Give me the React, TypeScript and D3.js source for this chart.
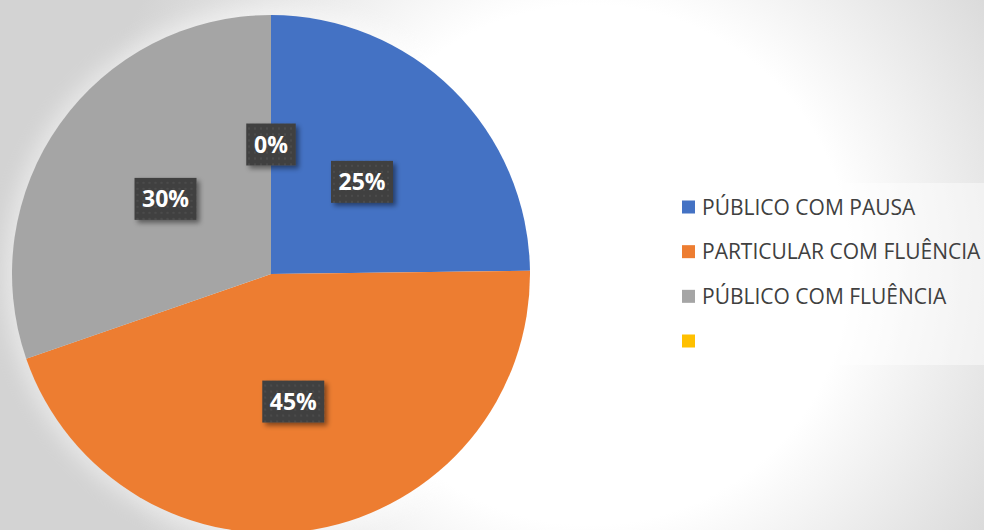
import React from "react";
import * as d3 from "d3";

const categories = ["PÚBLICO COM PAUSA", "PARTICULAR COM FLUÊNCIA", "PÚBLICO COM FLUÊNCIA", ""];
const values = [24.8, 44.9, 30.3, 0];
const labels = ["25%", "45%", "30%", "0%"];
const colors = ["#4472C4", "#ED7D31", "#A5A5A5", "#FFC000"];

const W = 984;
const H = 530;

export default function App() {
  const cx = 271;
  const cy = 274;
  const R = 259;
  const pie = d3.pie<number>().sort(null).value((d) => d)(values);
  const arc = d3.arc<d3.PieArcDatum<number>>().innerRadius(0).outerRadius(R);
  const legendY = d3.scalePoint<number>().domain(d3.range(categories.length)).range([207, 341]);
  const font = "'Open Sans', 'Noto Sans', sans-serif";
  const labelW = (s: string) => 18 + s.split("").reduce((a, c) => a + (c === "%" ? 19 : 12.5), 0);

  return (
    <svg width={W} height={H} style={{ position: "absolute", left: 0, top: 0 }}>
      <defs>
        <radialGradient id="bg" gradientUnits="userSpaceOnUse" cx={590} cy={265} r={520}>
          <stop offset="0" stopColor="#ffffff" />
          <stop offset="0.5" stopColor="#ffffff" />
          <stop offset="1" stopColor="#d3d3d3" />
        </radialGradient>
        <pattern id="dots" width="6" height="6" patternUnits="userSpaceOnUse">
          <rect width="6" height="6" fill="#404040" />
          <rect x="1" y="1" width="2" height="2" fill="#4c4c4c" />
        </pattern>
        <filter id="glow" x="-20%" y="-20%" width="140%" height="140%">
          <feGaussianBlur stdDeviation="10" />
        </filter>
        <filter id="shadow" x="-30%" y="-30%" width="160%" height="160%">
          <feDropShadow dx="3" dy="3" stdDeviation="2.5" floodColor="#000" floodOpacity="0.45" />
        </filter>
      </defs>
      <rect width={W} height={H} fill="url(#bg)" />
      <circle cx={cx} cy={cy} r={R + 8} fill="#ffffff" opacity={0.45} filter="url(#glow)" />
      <g transform={`translate(${cx},${cy})`}>
        {pie.map((p, i) => (
          <path key={i} d={arc(p) || ""} fill={colors[i]} />
        ))}
        {pie.map((p, i) => {
          const [x, y] = arc.centroid(p);
          const w = labelW(labels[i]);
          return (
            <g key={"l" + i} transform={`translate(${x},${y})`}>
              <rect x={-w / 2} y={-21} width={w} height={42} fill="url(#dots)" filter="url(#shadow)" />
              <text
                textAnchor="middle"
                dy="0.36em"
                fill="#ffffff"
                fontFamily={font}
                fontWeight={700}
                fontSize={23}
              >
                {labels[i]}
              </text>
            </g>
          );
        })}
      </g>
      <rect x={668} y={183} width={330} height={182} fill="#ffffff" opacity={0.45} />
      {categories.map((c, i) => (
        <g key={"lg" + i} transform={`translate(682,${legendY(i)})`}>
          <rect x={0} y={-6.5} width={13} height={13} fill={colors[i]} />
          <text x={20} dy="0.36em" fill="#404040" fontFamily={font} fontSize={21}>
            {c}
          </text>
        </g>
      ))}
    </svg>
  );
}
